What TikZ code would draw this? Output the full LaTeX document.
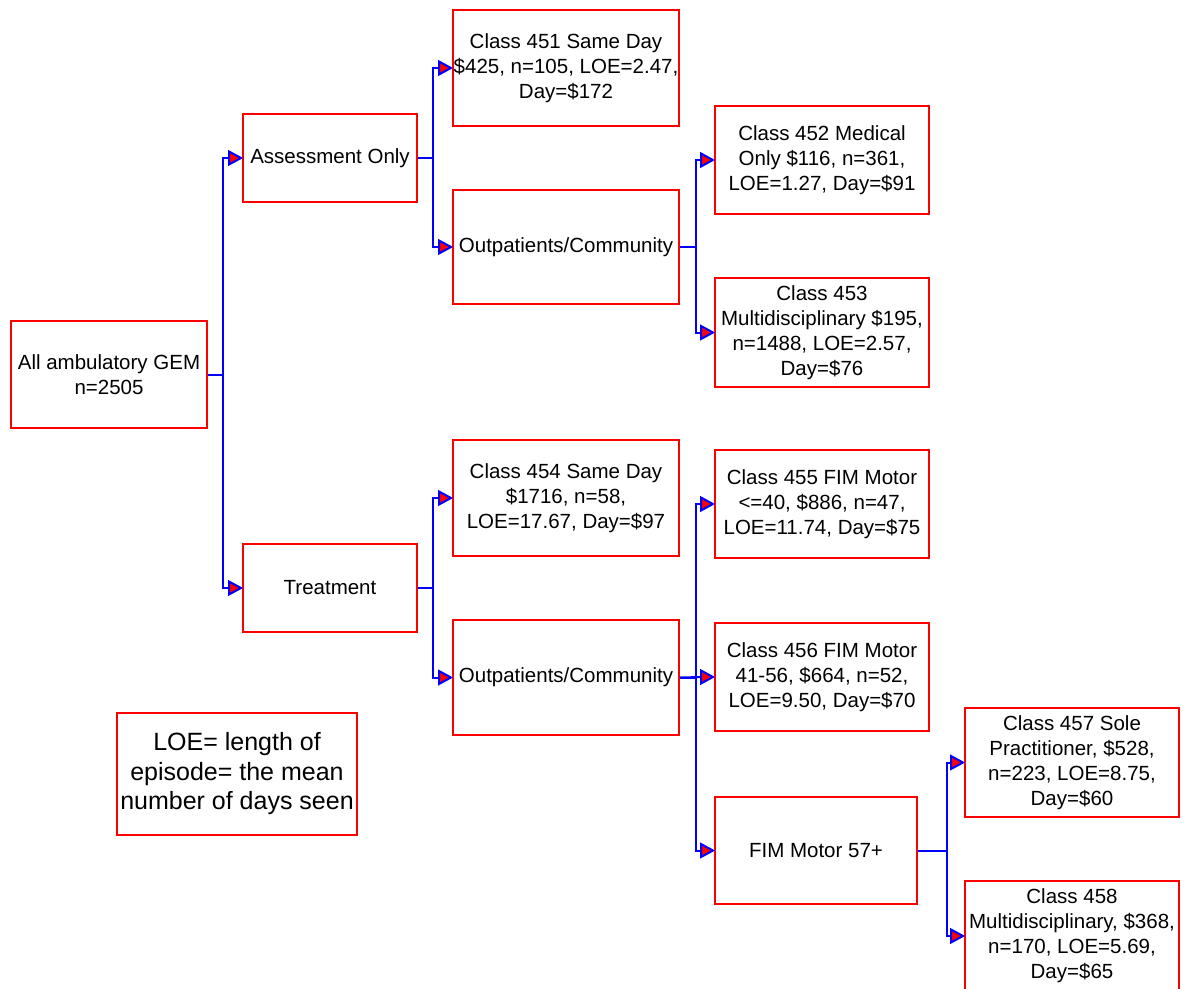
\documentclass[tikz,border=0pt]{standalone}
\usepackage{fontspec}
\setmainfont{Liberation Sans}

\tikzset{
  gbox/.style={draw=red, line width=2pt, fill=white, inner sep=0pt, anchor=north west},
  txt/.style={align=center, inner sep=0pt, font=\fontsize{20.5}{25}\selectfont},
  note/.style={align=center, inner sep=0pt, font=\fontsize{25}{29.5}\selectfont},
  conn/.style={draw=blue, line width=2pt},
  tiphead/.style={draw=blue, fill=red, line width=2pt, line join=miter}
}

% name, left, top, width, height, text
\newcommand\gembox[6]{%
  \node[gbox, minimum width=#4pt, minimum height=#5pt] (#1) at (#2,#3) {};
  \node[txt] at (#1.center) {#6};}

% red triangle with blue rim pointing at the west side of a box
\newcommand\tipinto[1]{%
  \filldraw[tiphead] ([xshift=-13pt,yshift=6.5pt]#1.west) --
    ([xshift=-1pt]#1.west) -- ([xshift=-13pt,yshift=-6.5pt]#1.west) -- cycle;}

\begin{document}
\begin{tikzpicture}[x=1pt, y={(0pt,-1pt)}]
  \useasboundingbox (0,0) rectangle (1186,988);

  % level 0 and 1
  \gembox{root}{10}{320}{196}{107}{All ambulatory GEM\\n=2505}
  \gembox{assess}{242}{113}{174}{88}{Assessment Only}
  \gembox{treat}{242}{543}{174}{88}{Treatment}

  % level 2
  \gembox{c451}{452}{9}{226}{116}{Class 451 Same Day\\\$425, n=105, LOE=2.47,\\Day=\$172}
  \gembox{opc1}{452}{189}{226}{114}{Outpatients/Community}
  \gembox{c454}{452}{439}{226}{116}{Class 454 Same Day\\\$1716, n=58,\\LOE=17.67, Day=\$97}
  \gembox{opc2}{452}{619}{226}{115}{Outpatients/Community}

  % level 3
  \gembox{c452}{714}{105}{214}{108}{Class 452 Medical\\Only \$116, n=361,\\LOE=1.27, Day=\$91}
  \gembox{c453}{714}{277}{214}{109}{Class 453\\Multidisciplinary \$195,\\n=1488, LOE=2.57,\\Day=\$76}
  \gembox{c455}{714}{449}{214}{108}{Class 455 FIM Motor\\<=40, \$886, n=47,\\LOE=11.74, Day=\$75}
  \gembox{c456}{714}{622}{214}{108}{Class 456 FIM Motor\\41-56, \$664, n=52,\\LOE=9.50, Day=\$70}
  \gembox{fim}{714}{796}{202}{107}{FIM Motor 57+}

  % level 4
  \gembox{c457}{964}{707}{214}{109}{Class 457 Sole\\Practitioner, \$528,\\n=223, LOE=8.75,\\Day=\$60}
  \gembox{c458}{964}{880}{214}{110}{Class 458\\Multidisciplinary, \$368,\\n=170, LOE=5.69,\\Day=\$65}

  % legend
  \node[gbox, minimum width=240pt, minimum height=122pt] (legend) at (116,712) {};
  \node[note] at (legend.center) {LOE= length of\\episode= the mean\\number of days seen};

  % trunk positions
  \coordinate (t0) at (223,0);
  \coordinate (t1) at (433,0);
  \coordinate (t2) at (433,0);
  \coordinate (t3) at (696,0);
  \coordinate (t4) at (696,0);
  \coordinate (t5) at (947,0);

  % connectors
  \draw[conn] (root.east) -- (root.east -| t0) |- ([xshift=-13pt]assess.west);
  \draw[conn] (root.east) -- (root.east -| t0) |- ([xshift=-13pt]treat.west);

  \draw[conn] (assess.east) -- (assess.east -| t1) |- ([xshift=-13pt]c451.west);
  \draw[conn] (assess.east) -- (assess.east -| t1) |- ([xshift=-13pt]opc1.west);

  \draw[conn] (treat.east) -- (treat.east -| t2) |- ([xshift=-13pt]c454.west);
  \draw[conn] (treat.east) -- (treat.east -| t2) |- ([xshift=-13pt]opc2.west);

  \draw[conn] (opc1.east) -- (opc1.east -| t3) |- ([xshift=-13pt]c452.west);
  \draw[conn] (opc1.east) -- (opc1.east -| t3) |- ([xshift=-13pt]c453.west);

  \draw[conn] (opc2.east) -- (opc2.east -| t4) |- ([xshift=-13pt]c455.west);
  \draw[conn] (opc2.east) -- ([xshift=-13pt]c456.west);
  \draw[conn] (opc2.east) -- (opc2.east -| t4) |- ([xshift=-13pt]fim.west);

  \draw[conn] (fim.east) -- (fim.east -| t5) |- ([xshift=-13pt]c457.west);
  \draw[conn] (fim.east) -- (fim.east -| t5) |- ([xshift=-13pt]c458.west);

  % arrowheads
  \foreach \n in {assess,treat,c451,opc1,c454,opc2,c452,c453,c455,c456,fim,c457,c458}
    {\tipinto{\n}}
\end{tikzpicture}
\end{document}
